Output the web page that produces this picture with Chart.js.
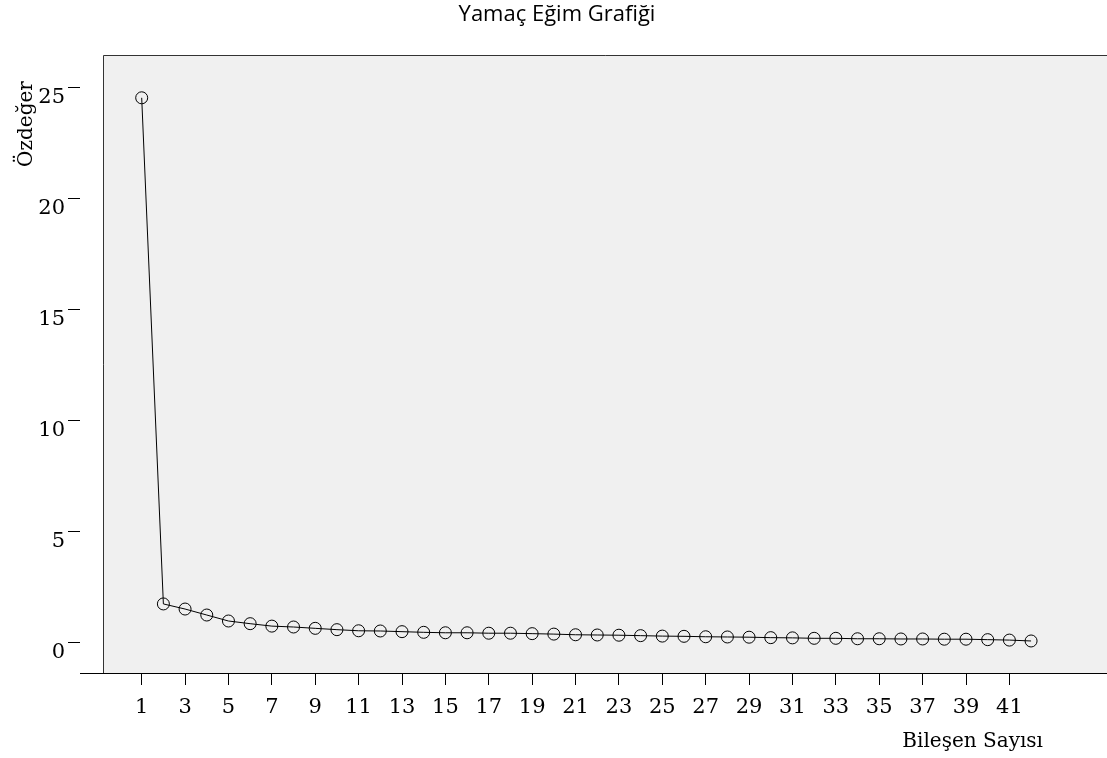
<!DOCTYPE html>
<html>
<head>
<meta charset="utf-8">
<script src="https://cdn.jsdelivr.net/npm/chart.js@4.4.1/dist/chart.umd.min.js"></script>
<style>
  html, body { margin: 0; padding: 0; background: #ffffff; }
  canvas { display: block; }
</style>
</head>
<body>
<canvas id="scree" width="1107" height="758"></canvas>
<script>
// Scree plot: eigenvalue of each extracted component
const chartTitle = 'Yamaç Eğim Grafiği';
const yAxisTitle = 'Özdeğer';
const xAxisTitle = 'Bileşen Sayısı';

const components = [1, 2, 3, 4, 5, 6, 7, 8, 9, 10, 11, 12, 13, 14, 15, 16, 17, 18, 19, 20, 21,
  22, 23, 24, 25, 26, 27, 28, 29, 30, 31, 32, 33, 34, 35, 36, 37, 38, 39, 40, 41, 42];
const eigenvalues = [24.55, 1.73, 1.50, 1.23, 0.96, 0.84, 0.73, 0.69, 0.63, 0.57, 0.52,
  0.51, 0.48, 0.45, 0.43, 0.43, 0.41, 0.41, 0.39, 0.37, 0.34, 0.33, 0.32, 0.30, 0.28,
  0.27, 0.25, 0.24, 0.23, 0.21, 0.20, 0.18, 0.18, 0.16, 0.16, 0.15, 0.15, 0.14, 0.14,
  0.12, 0.10, 0.06];
const xTickValues = [1, 3, 5, 7, 9, 11, 13, 15, 17, 19, 21, 23, 25, 27, 29, 31, 33, 35, 37, 39, 41];
const yTickValues = [0, 5, 10, 15, 20, 25];

const serif = '"DejaVu Serif", "Liberation Serif", serif';
const sans = '"Open Sans", "Noto Sans", sans-serif';
const frameInset = 23;   // gap between the tick column and the shaded plot frame

const framePlugin = {
  id: 'frame',
  beforeDatasetsDraw(chart) {
    const { ctx, chartArea: a } = chart;
    const left = a.left + frameInset;
    ctx.save();
    ctx.fillStyle = '#f0f0f0';
    ctx.fillRect(left, a.top, a.right - left, a.bottom - a.top);
    ctx.strokeStyle = '#333333';
    ctx.lineWidth = 1;
    ctx.beginPath();
    ctx.moveTo(left + 0.5, a.bottom);
    ctx.lineTo(left + 0.5, a.top + 0.5);
    ctx.lineTo(a.right, a.top + 0.5);
    ctx.stroke();
    ctx.restore();
  },
  afterDraw(chart) {
    const { ctx } = chart;
    ctx.save();
    ctx.fillStyle = '#000000';
    // chart title
    ctx.font = '22px ' + sans;
    ctx.textAlign = 'center';
    ctx.textBaseline = 'alphabetic';
    ctx.fillText(chartTitle, 557, 21);
    // x axis title, right aligned under the last ticks
    ctx.font = '20px ' + serif;
    ctx.textAlign = 'right';
    ctx.fillText(xAxisTitle, 1043, 747);
    // y axis title, rotated
    ctx.translate(32, 124);
    ctx.rotate(-Math.PI / 2);
    ctx.textAlign = 'center';
    ctx.fillText(yAxisTitle, 0, 0);
    ctx.restore();
  }
};

new Chart(document.getElementById('scree'), {
  type: 'line',
  data: {
    datasets: [{
      data: components.map((c, i) => ({ x: c, y: eigenvalues[i] })),
      borderColor: '#000000',
      borderWidth: 1,
      tension: 0,
      fill: false,
      pointRadius: 6,
      pointBorderWidth: 1,
      pointBorderColor: '#000000',
      pointBackgroundColor: 'rgba(0,0,0,0)'
    }]
  },
  options: {
    responsive: false,
    animation: false,
    devicePixelRatio: 1,
    layout: { autoPadding: false, padding: { top: 55, left: 0, right: 0, bottom: 0 } },
    plugins: {
      legend: { display: false },
      title: { display: false },
      tooltip: { enabled: false }
    },
    scales: {
      x: {
        type: 'linear',
        min: -1.844,
        max: 45.5,
        afterFit(scale) { scale.height = 85; },
        afterBuildTicks(scale) { scale.ticks = xTickValues.map(v => ({ value: v })); },
        grid: { drawOnChartArea: false, drawTicks: true, tickLength: 12, color: '#000000', lineWidth: 1 },
        border: { display: true, color: '#000000', width: 1 },
        ticks: {
          color: '#000000',
          font: { family: serif, size: 21 },
          padding: 10,
          maxRotation: 0,
          autoSkip: false
        }
      },
      y: {
        type: 'linear',
        min: -1.384,
        max: 26.48,
        afterFit(scale) { scale.width = 80; },
        afterBuildTicks(scale) { scale.ticks = yTickValues.map(v => ({ value: v })); },
        grid: { drawOnChartArea: false, drawTicks: true, tickLength: 12, color: '#000000', lineWidth: 1 },
        border: { display: false },
        ticks: {
          color: '#000000',
          font: { family: serif, size: 21 },
          padding: 3,
          labelOffset: 10,
          autoSkip: false
        }
      }
    }
  },
  plugins: [framePlugin]
});
</script>
</body>
</html>
